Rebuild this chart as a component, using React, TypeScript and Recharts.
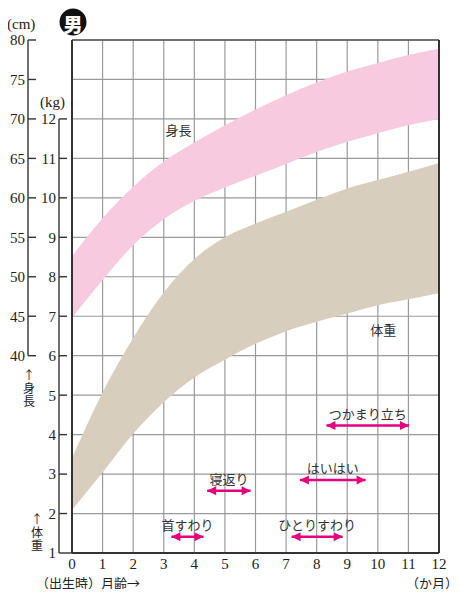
import React from "react";
import {
  ComposedChart,
  Area,
  Line,
  XAxis,
  YAxis,
  CartesianGrid,
  ReferenceLine,
  ReferenceDot,
} from "recharts";

// months 0 (birth) .. 12
const MONTHS = [0, 1, 2, 3, 4, 5, 6, 7, 8, 9, 10, 11, 12];
// height band (cm)
const HEIGHT_LOW = [44.8, 49.6, 54.0, 57.3, 59.6, 61.3, 62.8, 64.3, 65.8, 67.1, 68.2, 69.2, 70.0];
const HEIGHT_HIGH = [52.6, 57.4, 61.4, 64.6, 67.0, 69.2, 71.2, 73.0, 74.6, 76.0, 77.1, 78.1, 78.9];
// weight band (kg)
const WEIGHT_LOW = [2.09, 3.04, 4.02, 4.82, 5.45, 5.9, 6.3, 6.62, 6.86, 7.07, 7.28, 7.43, 7.58];
const WEIGHT_HIGH = [3.41, 5.07, 6.45, 7.6, 8.45, 9.0, 9.35, 9.65, 9.95, 10.24, 10.45, 10.66, 10.88];

const KG_TICKS = [1, 2, 3, 4, 5, 6, 7, 8, 9, 10, 11, 12, 13, 14];
const KG_LABEL_MAX = 12;
const CM_TICKS = [40, 45, 50, 55, 60, 65, 70, 75, 80];

// milestones
const MILESTONE_NAMES = ["首すわり", "寝返り", "ひとりすわり", "はいはい", "つかまり立ち"];
const MILESTONE_FROM = [3.25, 4.42, 7.18, 7.45, 8.32];
const MILESTONE_TO = [4.3, 5.84, 8.85, 9.6, 11.02];
const MILESTONE_LEVEL = [1.41, 2.58, 1.41, 2.85, 4.23];

const data = MONTHS.map((m, i) => ({
  month: m,
  height: [HEIGHT_LOW[i], HEIGHT_HIGH[i]],
  weight: [WEIGHT_LOW[i], WEIGHT_HIGH[i]],
}));

const CHART_W = 444;
const CHART_H = 581;
const MARGIN = { top: 32, right: 13, bottom: 0, left: 0 };
const X_AXIS_H = 36;
const PLOT_H = CHART_H - MARGIN.top - MARGIN.bottom - X_AXIS_H;
const STEP = PLOT_H / (KG_TICKS[KG_TICKS.length - 1] - KG_TICKS[0]);

const MAGENTA = "#E4007F";
const PINK = "#F7CADF";
const TAN = "#D8CEBD";
const GRID = "#9a9a9a";
const INK = "#222";
const SERIF = "'Liberation Serif', 'DejaVu Serif', serif";
const JP = "'Noto Sans CJK JP', sans-serif";

const KG_LINE_X = 51;
const CM_LINE_X = 20;

const KgTick = (props: any) => {
  const { y, payload } = props;
  const v = payload.value;
  if (v > KG_LABEL_MAX) return <g />;
  return (
    <g>
      <line x1={KG_LINE_X} x2={v === 1 ? 64 : KG_LINE_X + 8} y1={y} y2={y} stroke="#333" strokeWidth={1.4} />
      {v > 1 && <line x1={KG_LINE_X} x2={KG_LINE_X} y1={y} y2={y + STEP} stroke="#333" strokeWidth={1.4} />}
      <text x={KG_LINE_X - 3} y={y} dy="0.36em" textAnchor="end" fontSize={15} fill={INK} fontFamily={SERIF}>
        {v}
      </text>
    </g>
  );
};

const CmTick = (props: any) => {
  const { y, payload } = props;
  const v = payload.value;
  return (
    <g>
      <line x1={CM_LINE_X} x2={CM_LINE_X + 8} y1={y} y2={y} stroke="#333" strokeWidth={1.4} />
      {v > 40 && <line x1={CM_LINE_X} x2={CM_LINE_X} y1={y} y2={y + STEP} stroke="#333" strokeWidth={1.4} />}
      <text x={CM_LINE_X - 3} y={y} dy="0.36em" textAnchor="end" fontSize={15} fill={INK} fontFamily={SERIF}>
        {v}
      </text>
    </g>
  );
};

const ArrowHead = (props: any) => {
  const { cx, cy, index } = props;
  const dir = index === 0 ? -1 : 1;
  const d = `M${cx},${cy} L${cx - dir * 9},${cy - 4.5} L${cx - dir * 9},${cy + 4.5} Z`;
  return <path key={`ah-${index}`} d={d} fill={MAGENTA} />;
};

// arrow glyph above a vertically-set word
const AxisName = ({ x, y, word }: { x: number; y: number; word: string }) => (
  <g fontSize={12} fill={INK} fontFamily={JP}>
    <text x={x} y={y} textAnchor="middle" dominantBaseline="central">
      ↑
    </text>
    <text x={x} y={y + 8} style={{ writingMode: "vertical-rl" }} letterSpacing={1}>
      {word}
    </text>
  </g>
);

export default function App() {
  return (
    <div style={{ position: "relative", width: CHART_W, height: CHART_H, fontFamily: SERIF }}>
      <ComposedChart width={CHART_W} height={CHART_H} data={data} margin={MARGIN}>
        <XAxis
          dataKey="month"
          type="number"
          domain={[0, 12]}
          ticks={MONTHS}
          interval={0}
          height={X_AXIS_H}
          tickSize={0}
          tickMargin={5}
          axisLine={{ stroke: "#333", strokeWidth: 2 }}
          tick={{ fill: INK, fontSize: 15 }}
        />
        <YAxis
          yAxisId="kg"
          type="number"
          domain={[1, 14]}
          ticks={KG_TICKS}
          interval={0}
          width={36}
          axisLine={false}
          tickLine={false}
          tickSize={0}
          tickMargin={0}
          tick={<KgTick />}
        />
        <YAxis
          yAxisId="cm"
          type="number"
          domain={[15, 80]}
          ticks={CM_TICKS}
          interval={0}
          width={28}
          axisLine={false}
          tickLine={false}
          tickSize={0}
          tickMargin={0}
          tick={<CmTick />}
        />
        <Area
          yAxisId="cm"
          dataKey="height"
          type="monotone"
          stroke="none"
          fill={PINK}
          fillOpacity={1}
          isAnimationActive={false}
        />
        <Area
          yAxisId="kg"
          dataKey="weight"
          type="monotone"
          stroke="none"
          fill={TAN}
          fillOpacity={1}
          isAnimationActive={false}
        />
        <CartesianGrid yAxisId="kg" stroke={GRID} strokeWidth={1.2} />
        <ReferenceLine yAxisId="kg" y={14} stroke="#555" strokeWidth={1.5} />
        <ReferenceLine yAxisId="kg" x={0} stroke="#333" strokeWidth={2} />
        <ReferenceLine yAxisId="kg" x={12} stroke="#333" strokeWidth={2} />
        {MILESTONE_NAMES.map((name, i) => (
          <Line
            key={name}
            yAxisId="kg"
            data={[
              { month: MILESTONE_FROM[i], kg: MILESTONE_LEVEL[i] },
              { month: MILESTONE_TO[i], kg: MILESTONE_LEVEL[i] },
            ]}
            dataKey="kg"
            type="linear"
            stroke={MAGENTA}
            strokeWidth={2.5}
            dot={ArrowHead}
            activeDot={false}
            isAnimationActive={false}
          />
        ))}
        {MILESTONE_NAMES.map((name, i) => (
          <ReferenceDot
            key={`lbl-${name}`}
            yAxisId="kg"
            x={(MILESTONE_FROM[i] + MILESTONE_TO[i]) / 2}
            y={MILESTONE_LEVEL[i]}
            r={0}
            fill="none"
            stroke="none"
            label={{ value: name, position: "top", offset: 7, fill: "#333", fontSize: 13, fontFamily: JP }}
          />
        ))}
        <ReferenceDot
          yAxisId="cm"
          x={3.48}
          y={68.6}
          r={0}
          fill="none"
          stroke="none"
          label={{ value: "身長", position: "center", fill: "#333", fontSize: 13, fontFamily: JP }}
        />
        <ReferenceDot
          yAxisId="kg"
          x={10.18}
          y={6.65}
          r={0}
          fill="none"
          stroke="none"
          label={{ value: "体重", position: "center", fill: "#333", fontSize: 13, fontFamily: JP }}
        />
      </ComposedChart>
      <svg
        width={460}
        height={610}
        style={{ position: "absolute", left: -8, top: -8, pointerEvents: "none", overflow: "visible" }}
      >
        <circle cx={73} cy={22} r={13.5} fill="#111" />
        <text x={73} y={23} textAnchor="middle" dominantBaseline="central" fontSize={19} fontWeight={900} fill="#fff" fontFamily={JP}>
          男
        </text>
        <text x={7} y={24} dominantBaseline="central" fontSize={15} fill={INK} fontFamily={SERIF}>(cm)</text>
        <text x={40} y={102} dominantBaseline="central" fontSize={15} fill={INK} fontFamily={SERIF}>(kg)</text>
        <AxisName x={29} y={374} word="身長" />
        <AxisName x={37} y={518} word="体重" />
        <g fontSize={13} fill={INK} fontFamily={JP} dominantBaseline="central">
          <text x={36} y={582}>（出生時）</text>
          <text x={101} y={582}>月齢→</text>
          <text x={458} y={582} textAnchor="end">（か月）</text>
        </g>
      </svg>
    </div>
  );
}
